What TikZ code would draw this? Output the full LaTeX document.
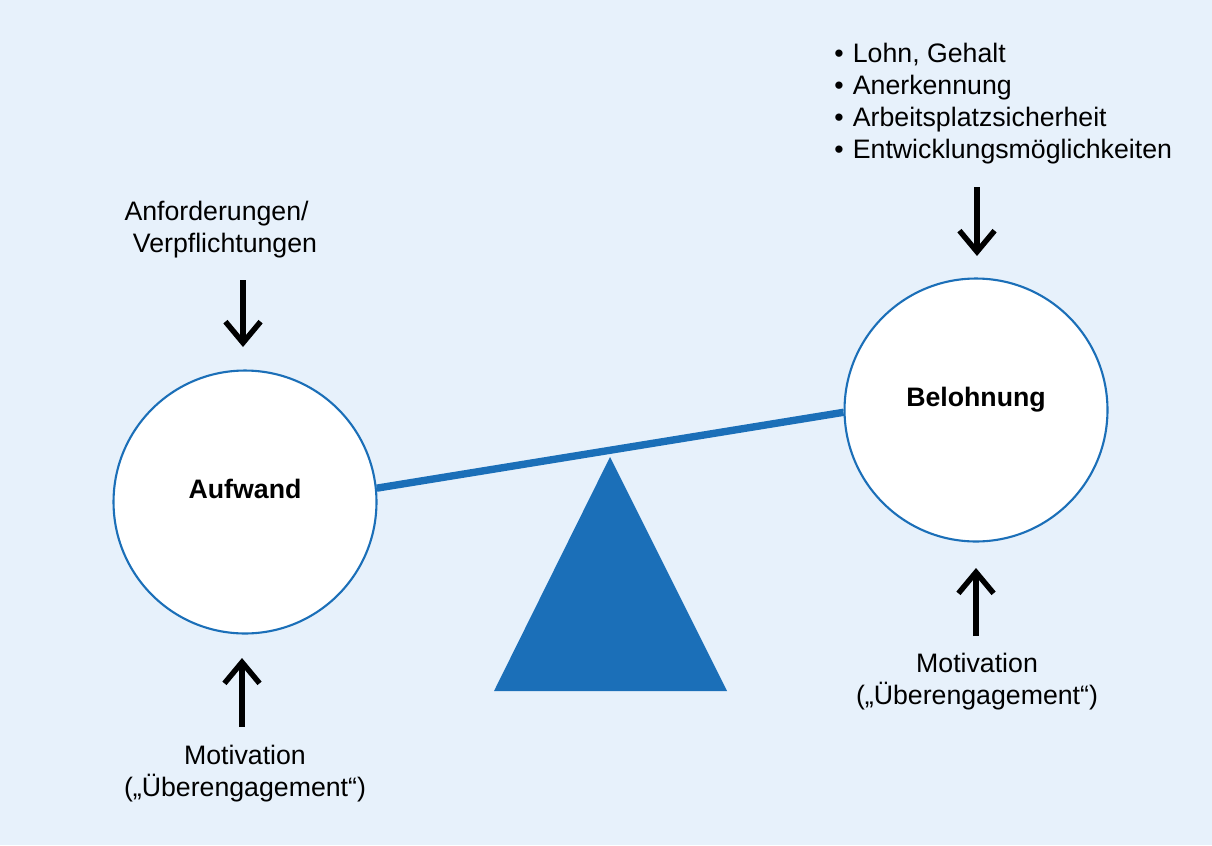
\documentclass[tikz,border=0pt]{standalone}
\usepackage{fontspec}
\setmainfont{Liberation Sans}
\usepackage{xcolor}
\usetikzlibrary{positioning,calc,arrows.meta}

\definecolor{bgblue}{HTML}{E7F1FB}
\definecolor{scaleblue}{HTML}{1B6FB8}

\tikzset{
    pan/.style={circle, draw=scaleblue, line width=1.2pt, fill=white, minimum size=5.26cm, inner sep=0pt},
    txt/.style={font=\fontsize{15.2}{18.2}\selectfont, align=center, inner sep=0pt},
    bold/.style={txt, font=\fontsize{15.2}{18.2}\selectfont\bfseries},
    force/.style={line width=3.1pt, -{Straight Barb[length=12pt, width=20pt]}},
}

\begin{document}
\begin{tikzpicture}[x=0.02cm, y=-0.02cm]
    % Background
    \fill[bgblue] (0,0) rectangle (1212,845);
    \useasboundingbox (0,0) rectangle (1212,845);

    % Pans of the scale
    \node[pan] (aufwand) at (245,502) {};
    \node[pan] (belohnung) at (976,410) {};
    \node[bold] (aufwandtxt) at (245,489) {Aufwand};
    \node[bold] (belohnungtxt) at (976,400) {Belohnung};

    % Beam and pivot
    \draw[scaleblue, line width=4.2pt] (aufwand.6) -- (belohnung.181);
    \fill[scaleblue] (610,457) coordinate (apex) -- (727,691) coordinate (baseR) -- (494,691) coordinate (baseL) -- cycle;

    % Left side
    \node[txt] (anford) at (225,230) {Anforderungen/\hspace*{9.6pt}\\Verpflichtungen};
    \coordinate (anfordtop) at (243,280);
    \coordinate (anfordend) at (243,347);
    \draw[force] (anfordtop) -- (anfordend);
    \coordinate (motLbot) at (242,727);
    \coordinate (motLtop) at (242,658);
    \draw[force] (motLbot) -- (motLtop);
    \node[txt] (motL) at (245,774) {Motivation\\(„Überengagement“)};

    % Right side
    \node[txt, align=left, anchor=north west] (rewards) at (834,43)
        {•\hspace{1pt} Lohn, Gehalt\\•\hspace{1pt} Anerkennung\\•\hspace{1pt} Arbeitsplatzsicherheit\\•\hspace{1pt} Entwicklungsmöglichkeiten};
    \coordinate (rewtop) at (977,187);
    \coordinate (rewend) at (977,256);
    \draw[force] (rewtop) -- (rewend);
    \coordinate (motRbot) at (976,636);
    \coordinate (motRtop) at (976,568);
    \draw[force] (motRbot) -- (motRtop);
    \node[txt] (motR) at (977,682) {Motivation\\(„Überengagement“)};
\end{tikzpicture}
\end{document}
